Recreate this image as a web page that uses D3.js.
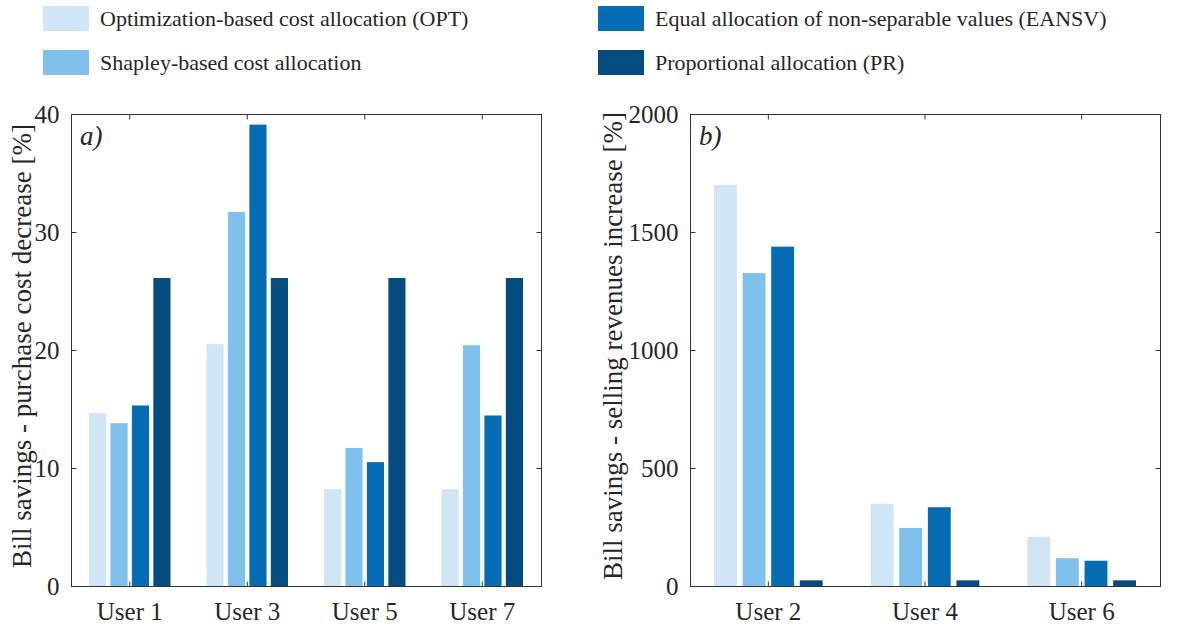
<!DOCTYPE html>
<html>
<head>
<meta charset="utf-8">
<script src="https://cdn.jsdelivr.net/npm/d3@7"></script>
<style>
  body { margin: 0; background: #fff; }
  text { font-family: "Liberation Serif", "Times New Roman", serif; fill: #262626; }
</style>
</head>
<body>
<div id="chart"></div>
<script>
// series names and colours
var seriesNames = [
  "Optimization-based cost allocation (OPT)",
  "Shapley-based cost allocation",
  "Equal allocation of non-separable values (EANSV)",
  "Proportional allocation (PR)"
];
var seriesColors = ["#d0e5f5", "#7fc0ec", "#066db4", "#044c7f"];

// panel a) purchase cost decrease
var usersA = ["User 1", "User 3", "User 5", "User 7"];
var optA = [14.65, 20.5, 8.2, 8.2];
var shapA = [13.8, 31.7, 11.7, 20.4];
var eansvA = [15.3, 39.1, 10.5, 14.45];
var prA = [26.1, 26.1, 26.1, 26.1];
var ticksA = [0, 10, 20, 30, 40];

// panel b) selling revenues increase
var usersB = ["User 2", "User 4", "User 6"];
var optB = [1700, 348, 208];
var shapB = [1326, 246, 118];
var eansvB = [1438, 334, 107];
var prB = [24, 24, 24];
var ticksB = [0, 500, 1000, 1500, 2000];

var svg = d3.select("#chart").append("svg")
  .attr("width", 1192)
  .attr("height", 625);

function drawPanel(opts) {
  var left = opts.left, top = 114, width = opts.width, height = 472;
  var g = svg.append("g").attr("transform", "translate(" + left + "," + top + ")");

  var table = opts.users.map(function (u, i) {
    return { user: u, values: opts.series.map(function (s, j) { return { key: j, value: s[i] }; }) };
  });

  var x0 = d3.scaleBand().domain(opts.users).range([0, width]).padding(0);
  var span = x0.bandwidth() * 0.73;
  var x1 = d3.scaleBand().domain([0, 1, 2, 3]).range([-span / 2, span / 2])
    .paddingInner(0.2).paddingOuter(0.1);
  var y = d3.scaleLinear().domain([0, opts.max]).range([height, 0]);

  // bars
  g.selectAll(".grp")
    .data(table)
    .enter().append("g")
    .attr("transform", function (d) { return "translate(" + (x0(d.user) + x0.bandwidth() / 2) + ",0)"; })
    .selectAll("rect")
    .data(function (d) { return d.values; })
    .enter().append("rect")
    .attr("x", function (d) { return x1(d.key); })
    .attr("y", function (d) { return y(d.value); })
    .attr("width", x1.bandwidth())
    .attr("height", function (d) { return height - y(d.value); })
    .attr("fill", function (d) { return seriesColors[d.key]; });

  // box
  g.append("rect")
    .attr("x", 0.5).attr("y", 0.5)
    .attr("width", width).attr("height", height)
    .attr("fill", "none").attr("stroke", "#333").attr("stroke-width", 1);

  // y axis left + right (inward ticks)
  var yl = g.append("g").attr("transform", "translate(0.5,0)")
    .call(d3.axisLeft(y).tickValues(opts.ticks).tickSize(-5).tickPadding(12).tickFormat(d3.format("d")));
  var yr = g.append("g").attr("transform", "translate(" + (width + 0.5) + ",0)")
    .call(d3.axisRight(y).tickValues(opts.ticks).tickSize(-5).tickFormat(""));
  // x axis bottom + top
  var xb = g.append("g").attr("transform", "translate(0," + (height + 0.5) + ")")
    .call(d3.axisBottom(x0).tickSize(-5).tickPadding(16));
  var xt = g.append("g").attr("transform", "translate(0,0.5)")
    .call(d3.axisTop(x0).tickSize(-5).tickFormat(""));

  [yl, yr, xb, xt].forEach(function (a) {
    a.select(".domain").remove();
    a.selectAll(".tick line").attr("stroke", "#333");
  });
  yl.selectAll("text").attr("font-size", "25px").attr("fill", "#262626");
  xb.selectAll("text").attr("font-size", "25px").attr("fill", "#262626");

  // y label
  svg.append("text")
    .attr("transform", "translate(" + (left - opts.labelOffset) + "," + (top + height / 2 - 4) + ") rotate(-90)")
    .attr("text-anchor", "middle")
    .attr("font-size", "27px")
    .text(opts.ylabel);

  // panel tag
  g.append("text")
    .attr("x", 9).attr("y", 31)
    .attr("font-size", "27px")
    .attr("font-style", "italic")
    .text(opts.tag);
}

drawPanel({
  left: 71, width: 470, users: usersA, series: [optA, shapA, eansvA, prA],
  max: 40, ticks: ticksA, labelOffset: 40,
  ylabel: "Bill savings - purchase cost decrease [%]", tag: "a)"
});

drawPanel({
  left: 690, width: 470, users: usersB, series: [optB, shapB, eansvB, prB],
  max: 2000, ticks: ticksB, labelOffset: 68,
  ylabel: "Bill savings - selling revenues increase [%]", tag: "b)"
});

// legend, two columns
var legendPos = [[43, 6], [43, 50], [598, 6], [598, 50]];
var legend = svg.append("g");
seriesNames.forEach(function (name, i) {
  legend.append("rect")
    .attr("x", legendPos[i][0]).attr("y", legendPos[i][1])
    .attr("width", 46).attr("height", 25)
    .attr("fill", seriesColors[i]);
  legend.append("text")
    .attr("x", legendPos[i][0] + 57).attr("y", legendPos[i][1] + 20)
    .attr("font-size", "22px")
    .text(name);
});
</script>
</body>
</html>
